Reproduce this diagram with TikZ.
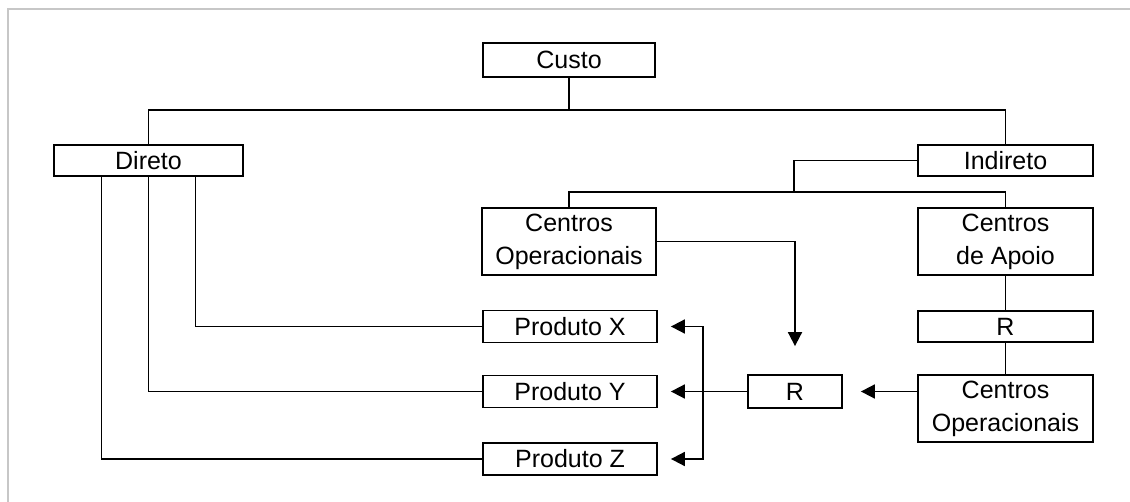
\documentclass[tikz,border=0pt]{standalone}
\usepackage{fontspec}
\setmainfont{Liberation Sans}
\usetikzlibrary{arrows.meta}

\tikzset{
    caixa/.style={draw, line width=1.8pt, inner sep=0pt, align=center,
        font=\fontsize{25}{33}\selectfont},
    liga/.style={line width=1.8pt},
    seta/.style={line width=1.8pt, -{Triangle[length=14pt,width=14pt]}}
}

\begin{document}
\begin{tikzpicture}[x=1pt,y=-1pt]
        \useasboundingbox (0,0) rectangle (1130,502);
        % Moldura
        \draw[black!22, line width=2.5pt] (8,502) -- (8,9) -- (1130,9);
        % Caixas (nodes)
        \node[caixa, minimum width=172pt, minimum height=34pt] (Custo) at (569,60) {Custo};
        \node[caixa, minimum width=189pt, minimum height=31pt] (Direto) at (148.5,160.5) {Direto};
        \node[caixa, minimum width=175pt, minimum height=31pt] (Indireto) at (1005.5,160.5) {Indireto};
        \node[caixa, minimum width=174pt, minimum height=67pt] (CentrosOp) at (569,241.5) {Centros\\Operacionais};
        \node[caixa, minimum width=175pt, minimum height=67pt] (CentrosApoio) at (1005.5,241.5) {Centros\\de Apoio};
        \node[caixa, minimum width=175pt, minimum height=31pt] (RApoio) at (1005.5,326.5) {R};
        \node[caixa, minimum width=175pt, minimum height=67pt] (CentrosOpB) at (1005.5,408.5) {Centros\\Operacionais};
        \node[caixa, minimum width=94pt, minimum height=33pt] (RMeio) at (795,391.5) {R};
        \foreach \p/\y in {X/326.5, Y/391.5, Z/459}{
            \node[caixa, minimum width=174pt, minimum height=32pt] (Prod\p) at (570,\y) {Produto \p};
        }
        % Pontos de ramificacao
        \coordinate (nivel1) at (569,110);
        \coordinate (nivel2) at (794,192);
        \coordinate (ramo) at (703,391.5);
        % Ligacoes (edges)
        \draw[liga] (Custo.south) -- (nivel1);
        \draw[liga] (Direto.north) |- (nivel1) -| (Indireto.north);
        \draw[liga] (Indireto.west) -| (nivel2);
        \draw[liga] (CentrosOp.north) |- (nivel2) -| (CentrosApoio.north);
        \draw[liga] (CentrosApoio.south) -- (RApoio.north);
        \draw[liga] (RApoio.south) -- (CentrosOpB.north);
        \foreach \d/\p in {47/ProdX, 0/ProdY, -47/ProdZ}{
            \draw[liga] ([xshift=\d pt]Direto.south) |- (\p.west);
        }
        % Setas
        \draw[seta, shorten >=28pt] (CentrosOp.east) -| (RMeio.north);
        \draw[seta, shorten >=18pt] (CentrosOpB.west |- RMeio) -- (RMeio.east);
        \draw[liga] (RMeio.west) -- (ramo);
        \draw[seta, shorten >=13pt] (ramo) |- (ProdX.east);
        \draw[seta, shorten >=13pt] (ramo) -- (ProdY.east);
        \draw[seta, shorten >=13pt] (ramo) |- (ProdZ.east);
\end{tikzpicture}
\end{document}
